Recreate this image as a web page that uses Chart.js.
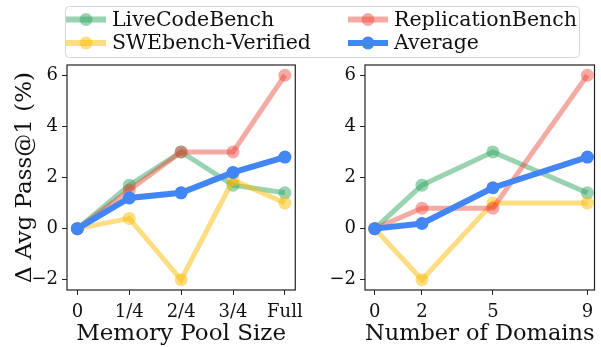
<!DOCTYPE html>
<html>
<head>
    <title>Memory Pool / Domains</title>
    <script src="https://cdn.jsdelivr.net/npm/chart.js"></script>
    <style>
        body { margin: 0; background: #fff; }
        #wrap { position: relative; width: 601px; height: 347px; overflow: hidden; }
        canvas { position: absolute; top: 0; }
        #leftChart { left: 0; }
        #rightChart { left: 310px; }
        #legendBox { left: 0; }
    </style>
</head>
<body>
<div id="wrap">
    <canvas id="leftChart" width="310" height="347"></canvas>
    <canvas id="rightChart" width="291" height="347"></canvas>
    <canvas id="legendBox" width="601" height="62"></canvas>
</div>

<script>
    // series names and colours (plot order: first drawn first)
    const seriesNames = ["LiveCodeBench", "SWEbench-Verified", "ReplicationBench", "Average"];
    const seriesColors = ["rgba(52,168,100,0.5)", "rgba(251,188,5,0.5)", "rgba(234,67,53,0.45)", "rgba(66,133,244,1)"];

    // left panel: memory pool size
    const poolLabels = ["0", "1/4", "2/4", "3/4", "Full"];
    const poolLive = [0, 1.7, 3.0, 1.7, 1.4];
    const poolSwe = [0, 0.4, -2.0, 1.9, 1.0];
    const poolRepl = [0, 1.5, 3.0, 3.0, 6.0];
    const poolAvg = [0, 1.2, 1.4, 2.2, 2.8];

    // right panel: number of domains
    const domainX = [0, 2, 5, 9];
    const domLive = [0, 1.7, 3.0, 1.4];
    const domSwe = [0, -2.0, 1.0, 1.0];
    const domRepl = [0, 0.8, 0.8, 6.0];
    const domAvg = [0, 0.2, 1.6, 2.8];

    const yTicks = [-2, 0, 2, 4, 6];

    const FONT = "DejaVu Serif";
    const INK = "#222";

    // draws the full box around the plot area like matplotlib spines
    const framePlugin = {
        id: "frame",
        afterDatasetsDraw(chart) {
            const a = chart.chartArea, ctx = chart.ctx;
            ctx.save();
            ctx.strokeStyle = INK;
            ctx.lineWidth = 1.2;
            ctx.strokeRect(a.left, a.top, a.right - a.left, a.bottom - a.top);
            ctx.restore();
        }
    };

    function fmtMinus(v) {
        return v < 0 ? "\u2212" + Math.abs(v) : String(v);
    }

    function makeSets(xs, lists) {
        return lists.map((vals, i) => ({
            label: seriesNames[i],
            data: vals.map((v, j) => ({ x: xs[j], y: v })),
            borderColor: seriesColors[i],
            backgroundColor: seriesColors[i],
            borderWidth: i === 3 ? 6 : 5,
            pointRadius: 6.5,
            pointBorderWidth: 0,
            pointHoverRadius: 6.5,
            order: lists.length - i
        }));
    }

    function makeChart(canvasId, sets, xOpts, yWidth, showYTitle, rightPad) {
        return new Chart(document.getElementById(canvasId), {
            type: "line",
            data: { datasets: sets },
            plugins: [framePlugin],
            options: {
                responsive: false,
                animation: false,
                devicePixelRatio: 1,
                layout: { padding: { top: 65, right: rightPad, bottom: 0, left: 0 } },
                plugins: { legend: { display: false }, tooltip: { enabled: false } },
                scales: {
                    x: {
                        type: "linear",
                        min: xOpts.min,
                        max: xOpts.max,
                        afterBuildTicks: ax => { ax.ticks = xOpts.ticks.map(v => ({ value: v })); },
                        afterFit: ax => { ax.height = 57; },
                        grid: { display: true, drawOnChartArea: false, drawTicks: true, tickLength: 5, color: INK },
                        border: { display: false },
                        ticks: {
                            callback: xOpts.fmt, padding: 7, color: "#111",
                            font: { family: FONT, size: 18 }, maxRotation: 0, autoSkip: false
                        },
                        title: {
                            display: true, text: xOpts.title, color: "#111",
                            font: { family: FONT, size: 23, lineHeight: 1.1 }, padding: { top: 0, bottom: 0 }
                        }
                    },
                    y: {
                        type: "linear",
                        min: -2.4,
                        max: 6.4,
                        afterBuildTicks: ax => { ax.ticks = yTicks.map(v => ({ value: v })); },
                        afterFit: ax => { ax.width = yWidth; },
                        grid: { display: true, drawOnChartArea: false, drawTicks: true, tickLength: 5, color: INK },
                        border: { display: false },
                        ticks: { callback: v => fmtMinus(v), padding: 4, color: "#111", font: { family: FONT, size: 18 } },
                        title: {
                            display: showYTitle, text: "\u0394 Avg Pass@1 (%)", color: "#111",
                            font: { family: FONT, size: 23, lineHeight: 1.2 }, padding: { top: 11, bottom: 0 }
                        }
                    }
                }
            }
        });
    }

    makeChart("leftChart",
        makeSets(poolLabels.map((_, i) => i), [poolLive, poolSwe, poolRepl, poolAvg]),
        { min: -0.2, max: 4.2, ticks: [0, 1, 2, 3, 4], fmt: v => poolLabels[v], title: "Memory Pool Size" },
        67, true, 5);

    makeChart("rightChart",
        makeSets(domainX, [domLive, domSwe, domRepl, domAvg]),
        { min: -0.41, max: 9.3, ticks: domainX, fmt: v => String(v), title: "Number of Domains" },
        55, false, 0);

    // legend, two columns: LiveCodeBench / SWEbench-Verified | ReplicationBench / Average
    (function drawLegend() {
        const ctx = document.getElementById("legendBox").getContext("2d");
        const x0 = 65.5, y0 = 6.5, w = 514, h = 51, r = 4;
        ctx.fillStyle = "rgba(255,255,255,0.8)";
        ctx.strokeStyle = "#d4d4d4";
        ctx.lineWidth = 1;
        ctx.beginPath();
        ctx.roundRect(x0, y0, w, h, r);
        ctx.fill();
        ctx.stroke();

        const pos = [[66, 19.5], [66, 43], [348, 19.5], [348, 43]];
        ctx.font = "20.5px " + FONT;
        ctx.textBaseline = "middle";
        seriesNames.forEach((name, i) => {
            const [lx, ly] = pos[i];
            ctx.strokeStyle = seriesColors[i];
            ctx.lineWidth = 6;
            ctx.beginPath();
            ctx.moveTo(lx, ly);
            ctx.lineTo(lx + 40, ly);
            ctx.stroke();
            ctx.fillStyle = seriesColors[i];
            ctx.beginPath();
            ctx.arc(lx + 20, ly, 6.5, 0, Math.PI * 2);
            ctx.fill();
            ctx.fillStyle = "#111";
            ctx.fillText(name, lx + 46, ly + 1);
        });
    })();
</script>
</body>
</html>
